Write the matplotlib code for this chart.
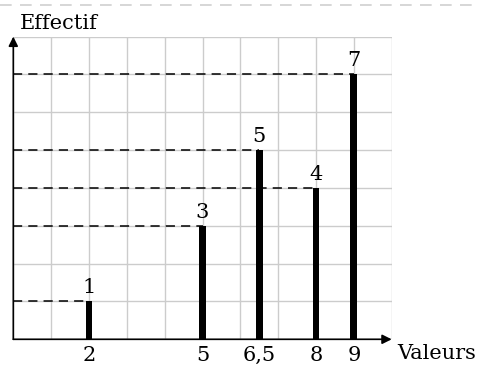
import matplotlib
matplotlib.use("Agg")
import matplotlib.pyplot as plt
from matplotlib.lines import Line2D

# data
valeurs = [2, 5, 6.5, 8, 9]
effectifs = [1, 3, 5, 4, 7]
tick_labels = ["2", "5", "6,5", "8", "9"]

plt.rcParams['font.family'] = ['DejaVu Serif']
fs = 15

fig = plt.figure(figsize=(4.8, 3.67), dpi=100)
ax = fig.add_axes([13.3 / 480, 27.7 / 367, 378.4 / 480, 302.7 / 367])
ax.set_xlim(0, 10)
ax.set_ylim(0, 8)

# light grid
for gx in range(0, 11):
    ax.axvline(gx, color="#cccccc", lw=1.0, zorder=0)
for gy in range(0, 9):
    ax.axhline(gy, color="#cccccc", lw=1.0, zorder=0)

# dashed guides from the y axis to each bar top
for x, y in zip(valeurs, effectifs):
    ax.plot([0, x], [y, y], color="black", lw=1.1, ls=(0, (6, 4)), zorder=2)

ax.bar(valeurs, effectifs, width=0.18, color="black", zorder=3)

for x, y in zip(valeurs, effectifs):
    ax.annotate(str(y), (x, y), xytext=(0, 3), textcoords="offset points",
                ha="center", va="bottom", fontsize=fs)

# axes with arrows
ax.annotate("", xy=(10, 0), xytext=(0, 0),
            arrowprops=dict(arrowstyle="-|>", color="black", lw=1.2,
                            mutation_scale=14, shrinkA=0, shrinkB=0),
            annotation_clip=False, zorder=4)
ax.annotate("", xy=(0, 8), xytext=(0, 0),
            arrowprops=dict(arrowstyle="-|>", color="black", lw=1.2,
                            mutation_scale=14, shrinkA=0, shrinkB=0),
            annotation_clip=False, zorder=4)

for s in ax.spines.values():
    s.set_visible(False)
ax.set_xticks(valeurs)
ax.set_xticklabels(tick_labels, fontsize=fs)
ax.tick_params(axis="x", length=0, pad=5)
ax.set_yticks([])

ax.text(10.15, -0.13, "Valeurs", ha="left", va="top", fontsize=fs)
ax.text(0.17, 8.1, "Effectif", ha="left", va="bottom", fontsize=fs)

# page border dashes at the top
fig.add_artist(Line2D([0, 1], [1 - 5 / 367, 1 - 5 / 367], color="#d0d0d0",
                      lw=1.2, ls=(0, (7, 5)), transform=fig.transFigure))

fig.savefig("out.png", dpi=100)
